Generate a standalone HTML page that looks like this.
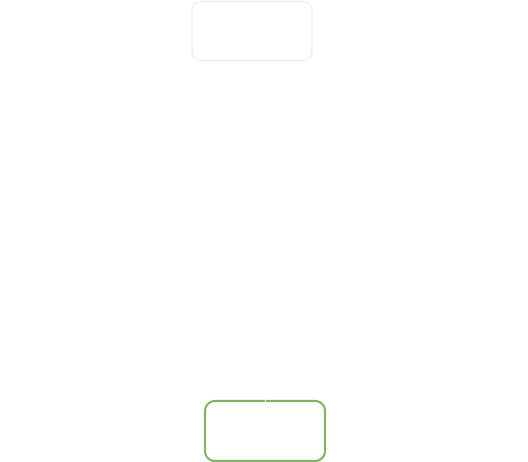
<!DOCTYPE html>
<html><head><style>
html,body{margin:0;padding:0;background:#fff;width:528px;height:462px;overflow:hidden;}
</style></head><body>
<svg width="528" height="462" xmlns="http://www.w3.org/2000/svg">
<rect x="192" y="1.5" width="120" height="59" rx="9" ry="9" fill="#fff" stroke="#f2f2f2" stroke-width="1.8"/>
<rect x="205" y="401" width="120" height="60" rx="10" ry="10" fill="#fff" stroke="#82b366" stroke-width="2.2"/>
<line x1="265.5" y1="399" x2="265.5" y2="403" stroke="#fff" stroke-width="1"/>
</svg>
</body></html>
